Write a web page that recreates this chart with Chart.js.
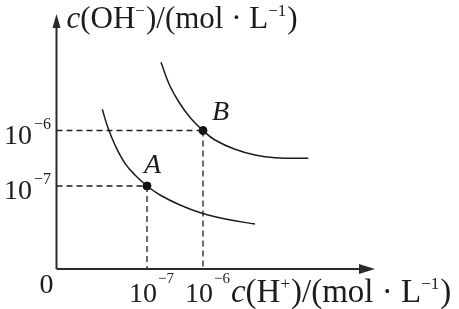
<!DOCTYPE html>
<html>
<head>
<meta charset="utf-8">
<script src="https://cdn.jsdelivr.net/npm/chart.js@4/dist/chart.umd.min.js"></script>
<style>
  html, body { margin: 0; padding: 0; background: #ffffff; }
  #wrap { position: relative; width: 459px; height: 309px; }
</style>
</head>
<body>
<div id="wrap"><canvas id="c" width="459" height="309"></canvas></div>
<script>
// ---- data (schematic units) ----
const curveAx = [4.58, 5.12, 5.85, 6.85, 7.85, 9.05, 10.35, 12.35, 14.55, 17.02, 19.85];
const curveAy = [15.97, 14.2, 12.4, 10.57, 9.4, 8.3, 7.4, 6.4, 5.57, 4.97, 4.5];
const curveBx = [10.45, 11.3, 12.3, 13.4, 14.65, 15.85, 17.85, 19.85, 21.85, 25.18];
const curveBy = [20.67, 18.4, 16.6, 15.1, 13.85, 12.9, 11.97, 11.4, 11.13, 11.07];
const pointNames = ["A", "B"];
const pointX = [9.05, 14.65];
const pointY = [8.3, 13.85];
const xTickValues = [9.05, 14.65];
const xTickExps = ["−7", "−6"];
const yTickValues = [8.3, 13.85];
const yTickExps = ["−7", "−6"];
const tickBase = "10";
const yAxisTitle = [{t: "c", i: true}, {t: "(OH"}, {t: "−", sup: true}, {t: ")/(mol · L"}, {t: "−1", sup: true}, {t: ")"}];
const xAxisTitle = [{t: "c", i: true}, {t: "(H"}, {t: "+", sup: true}, {t: ")/(mol · L"}, {t: "−1", sup: true}, {t: ")"}];
const originLabel = "0";

const INK = "#1c1c1c";
const FONT = "'Liberation Serif', 'Times New Roman', serif";
const labelOffsets = [[-3, -13], [9, -11]];

function zip(xs, ys) { return xs.map((x, k) => ({x: x, y: ys[k]})); }

const dashed = [];
pointX.forEach((px, k) => {
  dashed.push({
    type: 'line', data: [{x: 0, y: pointY[k]}, {x: px, y: pointY[k]}],
    borderColor: INK, borderWidth: 1.3, borderDash: [6, 4], pointRadius: 0, fill: false
  });
  dashed.push({
    type: 'line', data: [{x: px, y: pointY[k]}, {x: px, y: 0}],
    borderColor: INK, borderWidth: 1.3, borderDash: [6, 4], pointRadius: 0, fill: false
  });
});

function drawRich(ctx, parts, x, y, size, supSize, supDy) {
  let cx = x;
  parts.forEach(p => {
    const s = p.sup ? supSize : size;
    ctx.font = (p.i ? 'italic ' : '') + s + 'px ' + FONT;
    ctx.fillText(p.t, cx, y + (p.sup ? supDy : 0));
    cx += ctx.measureText(p.t).width + (p.sup ? 1 : 0);
  });
  return cx;
}

const decor = {
  id: 'decor',
  afterDatasetsDraw(chart) {
    const ctx = chart.ctx;
    const a = chart.chartArea;
    const xs = chart.scales.x, ys = chart.scales.y;
    const ox = xs.getPixelForValue(0), oy = ys.getPixelForValue(0);
    ctx.save();
    // axes
    ctx.strokeStyle = "#2a2a2a";
    ctx.fillStyle = "#2a2a2a";
    ctx.lineWidth = 2;
    ctx.beginPath();
    ctx.moveTo(ox, oy); ctx.lineTo(ox, a.top + 10);
    ctx.moveTo(ox, oy); ctx.lineTo(a.right - 12, oy);
    ctx.stroke();
    // arrow heads
    ctx.beginPath();
    ctx.moveTo(ox, a.top); ctx.lineTo(ox - 4, a.top + 14); ctx.lineTo(ox + 4, a.top + 14); ctx.closePath();
    ctx.fill();
    ctx.beginPath();
    ctx.moveTo(a.right, oy); ctx.lineTo(a.right - 16, oy - 5); ctx.lineTo(a.right - 16, oy + 5); ctx.closePath();
    ctx.fill();
    // texts
    ctx.fillStyle = INK;
    ctx.textBaseline = 'alphabetic';
    ctx.textAlign = 'left';
    // y axis title
    drawRich(ctx, yAxisTitle, ox + 10, a.top + 14, 31, 17, -12);
    // y ticks
    yTickValues.forEach((v, k) => {
      const py = ys.getPixelForValue(v);
      ctx.font = '28px ' + FONT;
      ctx.fillText(tickBase, 4, py + 13);
      const w = ctx.measureText(tickBase).width;
      ctx.font = '16px ' + FONT;
      ctx.fillText(yTickExps[k], 4 + w + 2, py - 2);
    });
    // x ticks
    let lastEnd = 0;
    xTickValues.forEach((v, k) => {
      const px = xs.getPixelForValue(v);
      ctx.font = '28px ' + FONT;
      const x0 = px - 18;
      ctx.fillText(tickBase, x0, oy + 33);
      const w = ctx.measureText(tickBase).width;
      ctx.font = '15px ' + FONT;
      ctx.fillText(xTickExps[k], x0 + w + 1, oy + 14);
      lastEnd = x0 + w + 1 + ctx.measureText(xTickExps[k]).width;
    });
    // x axis title
    drawRich(ctx, xAxisTitle, lastEnd + 1, oy + 33, 33, 17, -13);
    // origin
    ctx.font = '28px ' + FONT;
    ctx.fillText(originLabel, ox - 17, oy + 24);
    // point names
    ctx.font = 'italic 28px ' + FONT;
    pointNames.forEach((n, k) => {
      const px = xs.getPixelForValue(pointX[k]);
      const py = ys.getPixelForValue(pointY[k]);
      ctx.fillText(n, px + labelOffsets[k][0], py + labelOffsets[k][1]);
    });
    ctx.restore();
  }
};

new Chart(document.getElementById('c'), {
  type: 'scatter',
  data: {
    datasets: [
      {type: 'line', data: zip(curveAx, curveAy), borderColor: INK, borderWidth: 1.5, pointRadius: 0,
       tension: 0.4, fill: false},
      {type: 'line', data: zip(curveBx, curveBy), borderColor: INK, borderWidth: 1.5, pointRadius: 0,
       tension: 0.4, fill: false},
      ...dashed,
      {type: 'scatter', data: zip(pointX, pointY), backgroundColor: "#111", borderColor: "#111",
       pointRadius: 4, pointHoverRadius: 4}
    ]
  },
  options: {
    responsive: false,
    animation: false,
    devicePixelRatio: 1,
    layout: {padding: {left: 56.5, right: 84, top: 14, bottom: 40}},
    plugins: {legend: {display: false}, tooltip: {enabled: false}},
    scales: {
      x: {type: 'linear', min: 0, max: 31.85, display: false},
      y: {type: 'linear', min: 0, max: 25.5, display: false}
    }
  },
  plugins: [decor]
});
</script>
</body>
</html>
